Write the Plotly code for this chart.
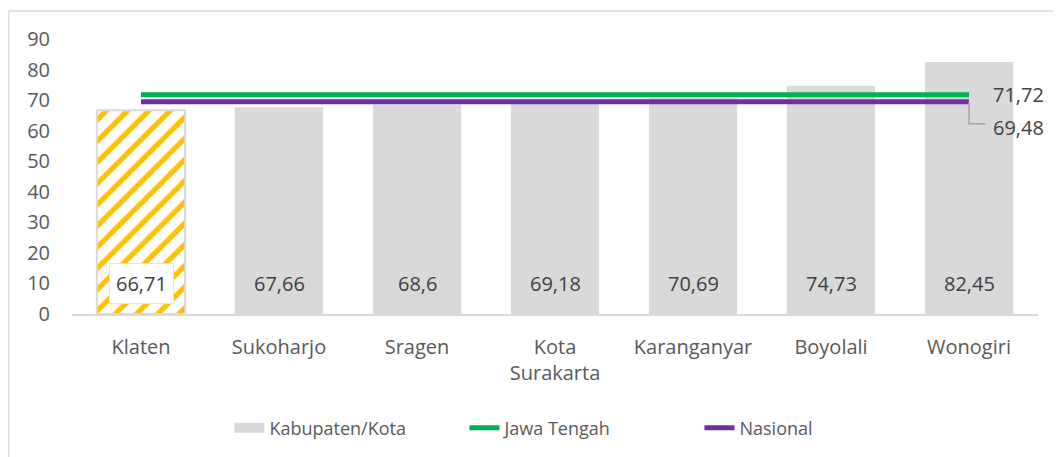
import plotly.graph_objects as go

categories = ["Klaten", "Sukoharjo", "Sragen", "Kota<br>Surakarta", "Karanganyar", "Boyolali", "Wonogiri"]
values = [66.71, 67.66, 68.6, 69.18, 70.69, 74.73, 82.45]
value_labels = ["66,71", "67,66", "68,6", "69,18", "70,69", "74,73", "82,45"]
jateng = 71.72
nasional = 69.48
jateng_label = "71,72"
nasional_label = "69,48"
y_ticks = [0, 10, 20, 30, 40, 50, 60, 70, 80, 90]

TXT = "#595959"
LBL = "#404040"
FONT = "Open Sans"

fig = go.Figure()

# highlighted category (Klaten) with yellow stripes
fig.add_trace(go.Bar(
    x=categories[:1], y=values[:1], name="Kabupaten/Kota",
    width=0.64, showlegend=False, hoverinfo="skip",
    marker=dict(
        color="#ffffff",
        line=dict(color="#d9d9d9", width=2),
        pattern=dict(shape="/", fgcolor="#FFC000", bgcolor="#ffffff",
                     fillmode="overlay", fgopacity=1, size=15, solidity=0.35),
    ),
))
fig.add_trace(go.Bar(
    x=categories[1:], y=values[1:], name="Kabupaten/Kota", showlegend=False,
    width=0.64, marker=dict(color="#d9d9d9", line=dict(width=0)),
))
# legend entry for the bars (wide grey block, like the original)
fig.add_trace(go.Scatter(x=[categories[0]], y=[None], mode="lines", name="Kabupaten/Kota",
                         line=dict(color="#d9d9d9", width=14)))

fig.add_trace(go.Scatter(x=categories, y=[jateng] * len(categories), mode="lines",
                         name="Jawa Tengah", line=dict(color="#00B050", width=5)))
fig.add_trace(go.Scatter(x=categories, y=[nasional] * len(categories), mode="lines",
                         name="Nasional", line=dict(color="#7030A0", width=5)))

annotations = []
for i, (c, t) in enumerate(zip(categories, value_labels)):
    a = dict(x=c, y=10, text=t, showarrow=False, xref="x", yref="y",
             font=dict(family=FONT, size=20, color=LBL))
    if i == 0:
        a.update(bgcolor="#ffffff", bordercolor="#e6e6e6", borderwidth=1, borderpad=6)
    annotations.append(a)

annotations.append(dict(x=6.16, y=jateng, text=jateng_label, showarrow=False, xref="x", yref="y",
                        xanchor="left", yanchor="middle",
                        font=dict(family=FONT, size=20, color=LBL)))
annotations.append(dict(x=6.16, y=61.2, text=nasional_label, showarrow=False, xref="x", yref="y",
                        xanchor="left", yanchor="middle",
                        font=dict(family=FONT, size=20, color=LBL)))

fig.update_layout(
    width=1053, height=449,
    margin=dict(l=64, r=23, t=31, b=143, autoexpand=False),
    paper_bgcolor="#ffffff", plot_bgcolor="#ffffff",
    font=dict(family=FONT, size=20, color=TXT),
    barmode="overlay",
    annotations=annotations,
    legend=dict(orientation="h", x=0.163, xanchor="left", y=-0.415, yanchor="middle",
                font=dict(family=FONT, size=18, color=TXT),
                entrywidth=190, entrywidthmode="pixels",
                traceorder="normal"),
    shapes=[
        dict(type="line", xref="paper", yref="paper",
             x0=-0.0657, x1=1.03, y0=1.1018, y1=1.1018,
             line=dict(color="#d9d9d9", width=1.5)),
        dict(type="line", xref="paper", yref="paper",
             x0=-0.0657, x1=-0.0657, y0=1.1018, y1=-0.55,
             line=dict(color="#d9d9d9", width=1.5)),
        dict(type="path", xref="x", yref="y",
             path="M 6.0,69.48 L 6.0,62.3 L 6.12,62.3",
             line=dict(color="#a6a6a6", width=1.5)),
    ],
)
fig.update_xaxes(showgrid=False, showline=True, linecolor="#d9d9d9", linewidth=2,
                 ticks="", tickfont=dict(family=FONT, size=20, color=TXT),
                 ticklabelstandoff=14, range=[-0.5, 6.5])
fig.update_yaxes(range=[0, 90], tickvals=y_ticks, showgrid=False, showline=False,
                 zeroline=False, ticks="", ticklabelstandoff=21,
                 tickfont=dict(family=FONT, size=20, color=TXT))

fig.write_html("out.html")
